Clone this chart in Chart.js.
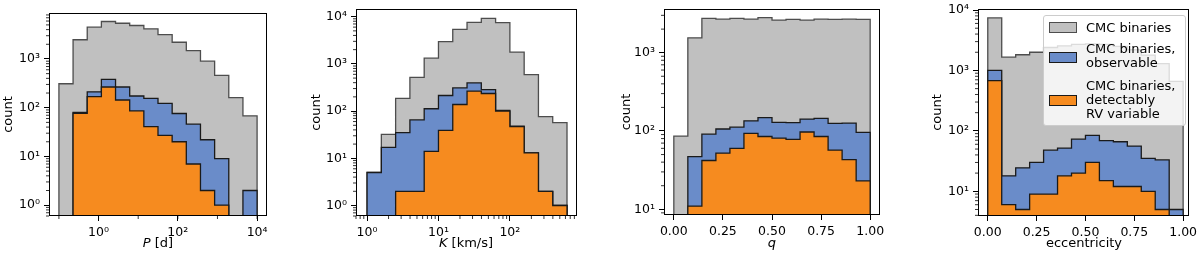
<!DOCTYPE html>
<html>
<head>
<meta charset="utf-8">
<script src="https://cdn.jsdelivr.net/npm/chart.js@4.4.1/dist/chart.umd.min.js"></script>
<style>
  body { margin: 0; background: #fff; }
  #wrap { position: relative; width: 1200px; height: 257px; overflow: hidden; font-family: "DejaVu Sans", sans-serif; }
  canvas { position: absolute; top: 0; }
  .xlabel { position: absolute; top: 236px; font-size: 13px; line-height: 13px; transform: translateX(-50%); white-space: nowrap; color: #000; }
  #legend { position: absolute; left: 1043px; top: 15px; width: 141px; height: 109px; background: rgba(255,255,255,0.8); border: 1px solid #cccccc; border-radius: 3px; }
  .lg-patch { position: absolute; left: 5px; width: 26px; height: 9px; border: 1px solid #1a1a1a; }
  .lg-text { position: absolute; left: 42px; font-size: 13px; line-height: 14px; white-space: pre-line; color: #000; }
</style>
</head>
<body>
<div id="wrap">
  <canvas id="cP" width="300" height="257" style="left:0px"></canvas>
  <canvas id="cK" width="300" height="257" style="left:300px"></canvas>
  <canvas id="cQ" width="300" height="257" style="left:600px"></canvas>
  <canvas id="cE" width="300" height="257" style="left:900px"></canvas>
  <div class="xlabel" style="left:158px"><i>P</i> [d]</div>
  <div class="xlabel" style="left:466px"><i>K</i> [km/s]</div>
  <div class="xlabel" style="left:772px"><i>q</i></div>
  <div class="xlabel" style="left:1084px">eccentricity</div>
  <div id="legend"></div>
</div>
<script>
// histogram bin edges (14 bins per panel)
const periodEdges = [0.1, 0.2276, 0.5179, 1.179, 2.683, 6.105, 13.89, 31.62, 71.97, 163.8, 372.8, 848.3, 1931, 4394, 10000];
const kEdges = [1, 1.585, 2.512, 3.981, 6.310, 10, 15.85, 25.12, 39.81, 63.10, 100, 158.5, 251.2, 398.1, 631.0];
const qEdges = [0, 0.0714, 0.1429, 0.2143, 0.2857, 0.3571, 0.4286, 0.5, 0.5714, 0.6429, 0.7143, 0.7857, 0.8571, 0.9286, 1];
const eccEdges = [0, 0.0714, 0.1429, 0.2143, 0.2857, 0.3571, 0.4286, 0.5, 0.5714, 0.6429, 0.7143, 0.7857, 0.8571, 0.9286, 1];

// counts per bin: all binaries, observable, detectably RV variable
const periodAll = [310, 2480, 4480, 5870, 5400, 4860, 4150, 3150, 2200, 1480, 900, 460, 161, 68];
const periodObs = [0, 80, 212, 380, 266, 174, 156, 123, 76, 46, 22, 9, 0, 2];
const periodDet = [0, 77, 169, 266, 144, 86, 41, 27, 20, 7, 2, 1, 0, 0];

const kAll = [5, 32, 185, 520, 1320, 2950, 5400, 7600, 9200, 7450, 1780, 590, 76, 57];
const kObs = [5, 17, 35, 65, 112, 214, 310, 395, 285, 103, 48, 13, 2, 1];
const kDet = [0, 0, 2, 2, 14, 39, 138, 265, 236, 100, 47, 13, 2, 1];

const qAll = [86, 1550, 2740, 2690, 2740, 2690, 2800, 2610, 2665, 2610, 2690, 2665, 2690, 2665];
const qObs = [0, 47, 91, 106, 112, 135, 148, 129, 128, 142, 145, 125, 126, 96];
const qDet = [0, 11, 42, 52, 60, 93, 85, 81, 78, 97, 85, 57, 43, 23];

const eccAll = [7400, 1660, 1820, 2000, 2400, 2550, 2700, 2750, 2700, 2500, 2200, 1800, 1300, 660];
const eccObs = [1000, 18, 24.5, 30, 48, 52, 73, 84, 69, 66, 56, 35, 33, 5];
const eccDet = [680, 6, 5, 9, 9, 18, 20, 30, 15, 12, 12, 10, 5, 0];

// tick labels
const periodTicks = [1, 100, 10000];
const periodCountTicks = [1, 10, 100, 1000];
const kTicks = [1, 10, 100];
const kCountTicks = [1, 10, 100, 1000, 10000];
const qTicks = [0, 0.25, 0.5, 0.75, 1];
const qCountTicks = [10, 100, 1000];
const eccTicks = [0, 0.25, 0.5, 0.75, 1];
const eccCountTicks = [10, 100, 1000, 10000];

const legendLabels = ['CMC binaries', 'CMC binaries,\nobservable', 'CMC binaries,\ndetectably\nRV variable'];
const fillColors = ['#c0c0c0', '#6a8cc9', '#f68b1f'];
const edgeColors = ['#4d4d4d', '#1a1a1a', '#1a1a1a'];

const FONT = 'DejaVu Sans';
const SUP = {'0': '\u2070', '1': '\u00b9', '2': '\u00b2', '3': '\u00b3', '4': '\u2074', '-': '\u207b'};

function powLabel(v) {
  const e = String(Math.round(Math.log10(v)));
  return '10' + e.split('').map(c => SUP[c]).join('');
}

// step outline: up at the first edge, across each bin, down at the last edge
function stepPoints(edges, counts) {
  const floor = 1e-3; // log axis can't take 0, this sits below the visible range
  const pts = [{x: edges[0], y: floor}];
  counts.forEach((c, i) => pts.push({x: edges[i], y: Math.max(c, floor)}));
  pts.push({x: edges[edges.length - 1], y: floor});
  return pts;
}

// box around the plot area, like matplotlib spines
const frame = {
  id: 'frame',
  afterDatasetsDraw(chart) {
    const a = chart.chartArea, ctx = chart.ctx;
    ctx.save();
    ctx.strokeStyle = '#000';
    ctx.lineWidth = 1;
    ctx.strokeRect(Math.round(a.left) + 0.5, Math.round(a.top) + 0.5, Math.round(a.right - a.left) - 1, Math.round(a.bottom - a.top) - 1);
    ctx.restore();
  }
};

// short unlabeled ticks on log axes
const minorTicks = {
  id: 'minorTicks',
  afterDraw(chart, args, opts) {
    const {ctx, chartArea: a} = chart;
    ctx.save();
    ctx.strokeStyle = '#000';
    ctx.lineWidth = 0.8;
    Object.values(chart.scales).forEach(sc => {
      if (sc.type !== 'logarithmic') return;
      const subs = (opts.subs && opts.subs[sc.id]) || [2, 3, 4, 5, 6, 7, 8, 9];
      for (let d = Math.floor(Math.log10(sc.min)) - 1; d <= Math.ceil(Math.log10(sc.max)); d++) {
        subs.forEach(m => {
          const v = m * Math.pow(10, d);
          if (v <= sc.min || v >= sc.max) return;
          const p = sc.getPixelForValue(v);
          ctx.beginPath();
          if (sc.isHorizontal()) { ctx.moveTo(p, a.bottom); ctx.lineTo(p, a.bottom + 3); }
          else { ctx.moveTo(a.left, p); ctx.lineTo(a.left - 3, p); }
          ctx.stroke();
        });
      }
    });
    ctx.restore();
  }
};

function makeHist(id, p) {
  const series = p.series;
  // orange first so it is drawn on top, grey last
  const datasets = [2, 1, 0].map(k => ({
    data: stepPoints(p.edges, series[k]),
    stepped: true,
    fill: 'start',
    backgroundColor: fillColors[k],
    borderColor: edgeColors[k],
    borderWidth: 1.3,
    borderJoinStyle: 'miter',
    pointRadius: 0,
  }));

  const tickFont = {family: FONT, size: 12.5};
  const gridOpts = {display: true, drawOnChartArea: false, tickLength: 5, tickColor: '#000', tickWidth: 1};

  return new Chart(document.getElementById(id), {
    type: 'line',
    data: {datasets},
    options: {
      responsive: false,
      animation: false,
      events: [],
      layout: {padding: {top: p.top, right: p.right, left: 0, bottom: 0}},
      scales: {
        x: {
          type: p.xLog ? 'logarithmic' : 'linear',
          min: p.xMin,
          max: p.xMax,
          afterBuildTicks: ax => { ax.ticks = p.xTicks.map(v => ({value: v})); },
          afterFit: sc => { sc.height = 257 - p.bottom; sc.paddingLeft = 0; sc.paddingRight = 0; },
          ticks: {
            callback: v => p.xLog ? powLabel(v) : Number(v).toFixed(2),
            autoSkip: false, maxRotation: 0, minRotation: 0, padding: 4, color: '#000', font: tickFont
          },
          grid: gridOpts,
          border: {display: false},
        },
        y: {
          type: 'logarithmic',
          min: p.yMin,
          max: p.yMax,
          afterBuildTicks: ax => { ax.ticks = p.yTicks.map(v => ({value: v})); },
          afterFit: sc => { sc.width = p.yWidth; sc.paddingTop = 0; sc.paddingBottom = 0; },
          ticks: {callback: v => powLabel(v), autoSkip: false, padding: 4, color: '#000', font: tickFont},
          grid: gridOpts,
          border: {display: false},
          title: {display: true, text: 'count', color: '#000', font: {family: FONT, size: 13}, padding: {top: p.titlePad, bottom: 0}},
        }
      },
      plugins: {
        legend: {display: false},
        tooltip: {enabled: false},
        minorTicks: {subs: p.minorSubs || {}},
      }
    },
    plugins: [frame, minorTicks]
  });
}

makeHist('cP', {
  edges: periodEdges, series: [periodAll, periodObs, periodDet],
  xLog: true, xMin: 0.0562, xMax: 17783, xTicks: periodTicks,
  yMin: 0.647, yMax: 8770, yTicks: periodCountTicks,
  yWidth: 49, top: 13, right: 33, bottom: 216, titlePad: 1.2,
  minorSubs: {x: [1]},
});

makeHist('cK', {
  edges: kEdges, series: [kAll, kObs, kDet],
  xLog: true, xMin: 0.724, xMax: 871, xTicks: kTicks,
  yMin: 0.637, yMax: 14520, yTicks: kCountTicks,
  yWidth: 56, top: 9, right: 23, bottom: 216, titlePad: 8.9,
});

makeHist('cQ', {
  edges: qEdges, series: [qAll, qObs, qDet],
  xLog: false, xMin: -0.05, xMax: 1.05, xTicks: qTicks,
  yMin: 8.45, yMax: 3614, yTicks: qCountTicks,
  yWidth: 64, top: 9, right: 20, bottom: 215, titlePad: 18.9,
});

makeHist('cE', {
  edges: eccEdges, series: [eccAll, eccObs, eccDet],
  xLog: false, xMin: -0.05, xMax: 1.03, xTicks: eccTicks,
  yMin: 3.9, yMax: 10400, yTicks: eccCountTicks,
  yWidth: 78, top: 9, right: 11, bottom: 216, titlePad: 29.7,
});

// legend box inside the eccentricity panel
const legend = document.getElementById('legend');
const patchTops = [6, 36, 79];
const textTops = [5, 26, 63];
legendLabels.forEach((label, k) => {
  const patch = document.createElement('div');
  patch.className = 'lg-patch';
  patch.style.top = patchTops[k] + 'px';
  patch.style.background = fillColors[k];
  patch.style.borderColor = edgeColors[k];
  legend.appendChild(patch);
  const text = document.createElement('div');
  text.className = 'lg-text';
  text.style.top = textTops[k] + 'px';
  text.textContent = label;
  legend.appendChild(text);
});
</script>
</body>
</html>
